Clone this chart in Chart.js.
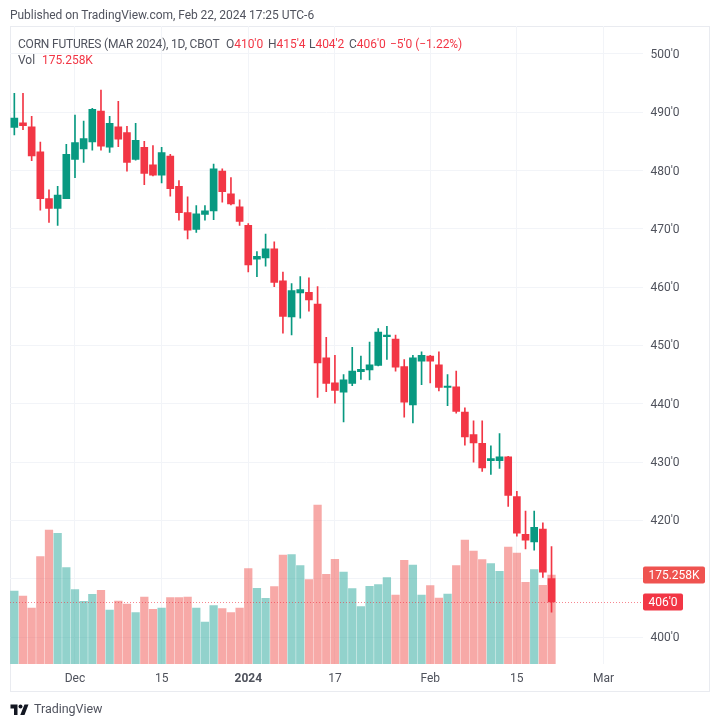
<!DOCTYPE html>
<html><head><meta charset="utf-8">
<script src="https://cdn.jsdelivr.net/npm/chart.js@4/dist/chart.umd.min.js"></script>
<style>
html,body{margin:0;padding:0;background:#fff;width:720px;height:726px;overflow:hidden}
#frame{position:absolute;left:10px;top:26px;width:698px;height:664px;border:1px solid #e9ebf0}
canvas{position:absolute;left:0;top:0}
.t{position:absolute;white-space:pre;font-family:Roboto,sans-serif;font-size:12px;line-height:16px;color:#50535e;letter-spacing:-.04px}
.r{color:#f23645}
</style></head><body>
<div id="frame"></div>
<canvas id="c" width="720" height="726"></canvas>
<div class="t" style="left:10px;top:7px">Published on TradingView.com, Feb 22, 2024 17:25 UTC-6</div>
<div class="t" style="left:18px;top:36px;letter-spacing:-.2px">CORN FUTURES (MAR 2024), 1D, CBOT</div>
<div class="t" style="left:226px;top:36px">O<span class="r">410'0</span></div>
<div class="t" style="left:268px;top:36px">H<span class="r">415'4</span></div>
<div class="t" style="left:309px;top:36px">L<span class="r">404'2</span></div>
<div class="t" style="left:349px;top:36px">C<span class="r">406'0</span></div>
<div class="t r" style="left:390px;top:36px">−5'0 (−1.22%)</div>
<div class="t" style="left:18px;top:52px">Vol</div>
<div class="t r" style="left:42px;top:52px">175.258K</div>
<svg style="position:absolute;left:10px;top:703px" width="19" height="13" viewBox="0 0 36 26"><path fill="#131722" d="M14 24H7V11H0V3h14v21zM28 24h-8.5L28 3h8l-8 21z"/><circle fill="#131722" cx="20" cy="7" r="4"/></svg>
<div class="t" style="left:34px;top:701px;font-size:12.5px;color:#50535e">TradingView</div>
<script>
const categories = ["2023-11-21","2023-11-22","2023-11-24","2023-11-27","2023-11-28","2023-11-29","2023-11-30","2023-12-01","2023-12-04","2023-12-05","2023-12-06","2023-12-07","2023-12-08","2023-12-11","2023-12-12","2023-12-13","2023-12-14","2023-12-15","2023-12-18","2023-12-19","2023-12-20","2023-12-21","2023-12-22","2023-12-26","2023-12-27","2023-12-28","2023-12-29","2024-01-02","2024-01-03","2024-01-04","2024-01-05","2024-01-08","2024-01-09","2024-01-10","2024-01-11","2024-01-12","2024-01-16","2024-01-17","2024-01-18","2024-01-19","2024-01-22","2024-01-23","2024-01-24","2024-01-25","2024-01-26","2024-01-29","2024-01-30","2024-01-31","2024-02-01","2024-02-02","2024-02-05","2024-02-06","2024-02-07","2024-02-08","2024-02-09","2024-02-12","2024-02-13","2024-02-14","2024-02-15","2024-02-16","2024-02-20","2024-02-21","2024-02-22","2024-02-23","2024-02-26","2024-02-27","2024-02-28","2024-02-29","2024-03-01","2024-03-04","2024-03-05","2024-03-06","2024-03-07"];
const opens = [487.4,488.2,487.5,483.2,475.2,473.5,475.2,481.9,483.7,484.9,490.2,484,487.5,486.5,481.9,484,481,479.2,482.5,477.3,472.8,469.9,472.5,473.1,479.9,476,473.8,470.6,464.8,465,466.6,461.1,454.9,459,459.1,457.1,447.9,443.6,442,443.5,445.5,445.8,446.6,451.5,451.1,446.4,439.8,447.3,448.2,446.7,442.8,442.9,438.6,434.7,433.2,430.25,430.25,430.9,424.1,417.6,416.3,418.5,410];
const closes = [489,487.7,482.5,475.2,473.5,475.8,482.8,484.8,485.5,490.5,484.2,488.1,485.4,481.4,485.2,479.5,479.2,483.1,476.9,472.8,469.8,472.6,473.1,480.3,476.4,474.3,471.3,463.8,465.3,466.6,460.8,455,459.4,459.6,457.8,447,443.5,442.3,444.1,445.6,445.9,446.7,452.3,451.8,446.3,440.3,447.9,448.3,447.3,442.8,442.9,438.7,434.3,433.3,429,430.6,430.9,424.3,417.8,416.6,418.8,411.1,406];
const highs = [493.25,493.25,489.3,484.9,476.7,477.3,484.5,489.5,488.5,490.7,493.8,489.3,491.9,487.6,488.1,485,484.3,484,482.8,478.3,475.5,474,474,481.1,480.3,478.8,475,470.9,466.1,469.1,467.8,462.6,460.6,461.8,461.6,460.1,451.4,448.3,445,449.7,448.2,450.6,452.9,453.3,451.8,447.6,448.3,448.9,448.3,448.9,445,445.6,439.3,437.1,437.1,432.8,434.9,431,425,421.6,421.6,419.6,415.5];
const lows = [486.1,487,481.7,473.2,471.1,470.6,475.2,478.8,481.4,483.5,483.5,483.1,484.1,479.9,481.8,477.6,479.1,477.9,475.6,471.5,468.3,469.4,471.5,471.6,474.6,474.1,470.6,462.6,461.8,463.6,460.1,452.1,451.8,454.7,455.9,441.1,442.1,440.1,436.9,443.1,444.2,444.1,446.5,447.6,445.6,437.7,436.7,443.3,443.6,442.2,439.7,438.4,432.9,430,428.4,427.9,428.9,422.4,417.3,415.1,414.9,410.2,404.25];
const volumes = [143.7,133.9,110.2,211.3,263.8,257.2,189.6,146.3,123.4,137.1,145,106.3,124,118.1,101,131.9,107.6,110.2,130.6,130.6,131.9,110.2,82.7,114.8,108.9,101,110.2,187.7,149,129.3,152.2,214.6,215.2,193.6,166,313,176.5,206,181.1,148.3,112.9,152.9,156.2,169.9,135.8,204.1,194.9,135.8,154.2,129.9,137.8,193.6,244.1,222.4,205.4,197.5,182.4,230.3,218.5,160.8,185.7,154.9,175.258];
const timeTickIndex = [7,17,27,37,48,58,68];
const timeTickText = ["Dec","15","2024","17","Feb","15","Mar"];
const priceTicks = [400,410,420,430,440,450,460,470,480,490,500];
const lastPrice = 406;
const lastVolume = 175.258;

const FONT = 'Roboto,sans-serif';
const UP = '#089981', DOWN = '#F23645', GRID = '#f2f4f8';
const isUp = i => closes[i] >= opens[i];

const tags = {
  id:'tags',
  beforeDraw(chart){
    chart.scales.y.getLabelItems().forEach(it=>{it.options.translation[1]+=1;});
  },
  beforeDatasetDraw(chart,args){
    if(args.index!==2) return;
    const {ctx,chartArea:a,scales:s}=chart;
    const y=Math.round(s.y.getPixelForValue(lastPrice))+0.5;
    ctx.save();ctx.strokeStyle='rgba(242,54,69,.6)';ctx.lineWidth=1;ctx.setLineDash([1,2]);
    ctx.beginPath();ctx.moveTo(a.left,y);ctx.lineTo(a.right,y);ctx.stroke();ctx.restore();
  },
  afterDraw(chart){
    const {ctx,chartArea:a,scales:s}=chart;
    const draw=(txt,val,scale,w,col)=>{
      const y=scale.getPixelForValue(val);
      ctx.save();ctx.fillStyle=col;ctx.beginPath();ctx.roundRect(a.right+0.5,y-8.5,w,17,2);ctx.fill();
      ctx.fillStyle='#fff';ctx.font='12px '+FONT;ctx.textBaseline='middle';ctx.textAlign='center';
      ctx.fillText(txt,a.right+0.5+w/2,y+1);ctx.restore();
    };
    draw(lastVolume+'K',lastVolume,s.v,62,'#EF5350');
    draw(lastPrice+"'0",lastPrice,s.y,40,DOWN);
  }
};

new Chart(document.getElementById('c'),{
  data:{labels:categories,datasets:[
    {type:'bar',label:'Volume',yAxisID:'v',data:volumes,grouped:false,order:4,barThickness:7.6,
     backgroundColor:c=>isUp(c.dataIndex)?'rgba(38,166,154,.5)':'rgba(239,83,80,.5)'},
    {type:'bar',label:'Wick',yAxisID:'y',data:categories.map((_,i)=>i<lows.length?[lows[i],highs[i]]:null),grouped:false,order:2,barThickness:1,
     backgroundColor:c=>isUp(c.dataIndex)?UP:DOWN},
    {type:'bar',label:'Body',yAxisID:'y',data:categories.map((_,i)=>i<opens.length?[opens[i],closes[i]]:null),grouped:false,order:1,barThickness:7,minBarLength:1.5,
     backgroundColor:c=>isUp(c.dataIndex)?UP:DOWN}
  ]},
  options:{
    responsive:false,animation:false,devicePixelRatio:1,
    layout:{padding:{left:10,top:26,right:11,bottom:35}},
    plugins:{legend:{display:false},tooltip:{enabled:false}},
    scales:{
      x:{type:'category',offset:true,
        grid:{color:GRID,offset:false,drawTicks:false},
        border:{display:false},
        afterBuildTicks(s){s.ticks=timeTickIndex.map(v=>({value:v}));},
        afterFit(s){s.height=27;},
        ticks:{autoSkip:false,maxRotation:0,padding:8,color:'#4f525c',
          font:c=>({family:FONT,size:12,weight:c.index===2?'bold':'normal'}),
          callback:(v,i)=>timeTickText[i]}},
      y:{position:'right',min:395.37,max:504.8,
        grid:{color:GRID,drawTicks:false},
        border:{display:false},
        afterBuildTicks(s){s.ticks=priceTicks.map(v=>({value:v}));},
        afterFit(s){s.width=66.5;},
        ticks:{padding:8,color:'#4f525c',font:{family:FONT,size:12},callback:v=>v+"'0"}},
      v:{display:false,min:0,max:1256}
    }
  },
  plugins:[tags]
});
</script>
</body></html>
